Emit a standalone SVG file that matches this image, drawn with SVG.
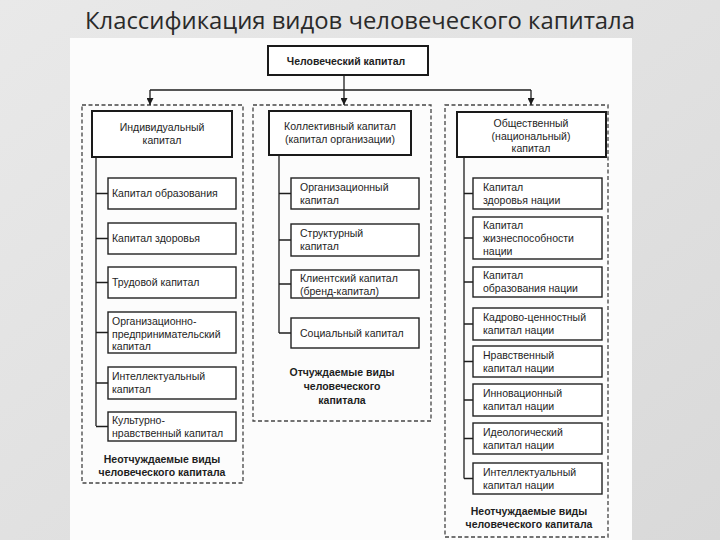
<svg xmlns="http://www.w3.org/2000/svg" width="720" height="540" viewBox="0 0 720 540">
<defs>
<linearGradient id="bg" x1="0" y1="0" x2="1" y2="1">
<stop offset="0" stop-color="#e9e9e9"/>
<stop offset="1" stop-color="#d9d9d9"/>
</linearGradient>
<marker id="ah" viewBox="0 0 10 10" refX="10" refY="5" markerWidth="7" markerHeight="7" orient="auto" markerUnits="userSpaceOnUse">
<path d="M0,0 L10,5 L0,10 z" fill="#1a1a1a"/>
</marker>
<style>
.title{font-family:"Open Sans","Liberation Sans",sans-serif;font-size:23px;fill:#2a2a2a}
.t{font-family:"Liberation Sans",Arial,sans-serif;font-size:10.5px;fill:#1e1e1e}
.c{text-anchor:middle}
.b{font-weight:bold}
.box{fill:#fff;stroke:#222;stroke-width:1.4}
.hbox{fill:#fff;stroke:#1a1a1a;stroke-width:2}
.grp{fill:none;stroke:#444;stroke-width:1.3;stroke-dasharray:4 2.5}
.ln{fill:none;stroke:#1e1e1e;stroke-width:1.3}
</style>
</defs>
<rect x="0" y="0" width="720" height="540" fill="url(#bg)"/>
<rect x="70" y="38" width="562" height="502" fill="#fcfcfc"/>
<text class="title" x="85" y="29" textLength="550" lengthAdjust="spacingAndGlyphs">Классификация видов человеческого капитала</text>

<g id="groups">
<rect id="grp-left" class="grp" x="82" y="105" width="161" height="378"/>
<rect id="grp-mid" class="grp" x="253" y="105" width="178" height="316"/>
<rect id="grp-right" class="grp" x="445" y="105" width="163" height="432"/>
</g>

<g id="connectors">
<line class="ln" x1="344" y1="75" x2="344" y2="90"/>
<line class="ln" x1="150" y1="90" x2="531" y2="90"/>
<line class="ln" x1="150" y1="90" x2="150" y2="105" marker-end="url(#ah)"/>
<line class="ln" x1="344" y1="90" x2="344" y2="105" marker-end="url(#ah)"/>
<line class="ln" x1="531" y1="90" x2="531" y2="105" marker-end="url(#ah)"/>
<!-- left -->
<path class="ln" d="M96,157 V426 M96,193.5 H108 M96,238.5 H108 M96,282.5 H108 M96,332.5 H108 M96,383 H108 M96,426.5 H108"/>
<!-- middle -->
<path class="ln" d="M279,155 V333 M279,193.5 H291 M279,240 H291 M279,284 H291 M279,333 H291"/>
<!-- right -->
<path class="ln" d="M464,157 V478.5 M464,193.5 H473 M464,238 H473 M464,282 H473 M464,324 H473 M464,361.5 H473 M464,400 H473 M464,438.5 H473 M464,478.5 H473"/>
</g>

<g id="n-root">
<rect class="hbox" x="268" y="46" width="160" height="29"/>
<text class="t c b" x="346" y="64.5">Человеческий капитал</text>
</g>

<g id="n-individual">
<rect class="hbox" x="92" y="111" width="140" height="46"/>
<text class="t c" x="162" y="131">Индивидуальный</text>
<text class="t c" x="162" y="144">капитал</text>
</g>
<g id="n-l1"><rect class="box" x="108" y="178" width="128" height="31"/><text class="t" x="112" y="197">Капитал образования</text></g>
<g id="n-l2"><rect class="box" x="108" y="223" width="128" height="31"/><text class="t" x="112" y="242">Капитал  здоровья</text></g>
<g id="n-l3"><rect class="box" x="108" y="267" width="128" height="31"/><text class="t" x="112" y="286">Трудовой капитал</text></g>
<g id="n-l4"><rect class="box" x="108" y="312" width="128" height="41"/><text class="t" x="112" y="325">Организационно-</text><text class="t" x="112" y="337.5">предпринимательский</text><text class="t" x="112" y="350">капитал</text></g>
<g id="n-l5"><rect class="box" x="108" y="367" width="128" height="32"/><text class="t" x="112" y="380">Интеллектуальный</text><text class="t" x="112" y="393">капитал</text></g>
<g id="n-l6"><rect class="box" x="108" y="412" width="128" height="29"/><text class="t" x="112" y="424">Культурно-</text><text class="t" x="112" y="437">нравственный капитал</text></g>
<g id="f-left"><text class="t c b" x="162" y="463">Неотчуждаемые виды</text><text class="t c b" x="162" y="476">человеческого капитала</text></g>

<g id="n-collective">
<rect class="hbox" x="269" y="111" width="142" height="44"/>
<text class="t c" x="340" y="130">Коллективный капитал</text>
<text class="t c" x="340" y="143">(капитал организации)</text>
</g>
<g id="n-m1"><rect class="box" x="291" y="178" width="128" height="31"/><text class="t" x="300" y="191">Организационный</text><text class="t" x="300" y="204">капитал</text></g>
<g id="n-m2"><rect class="box" x="291" y="224" width="128" height="32"/><text class="t" x="300" y="237">Структурный</text><text class="t" x="300" y="250">капитал</text></g>
<g id="n-m3"><rect class="box" x="291" y="270" width="128" height="28"/><text class="t" x="300" y="282">Клиентский капитал</text><text class="t" x="300" y="295">(бренд-капитал)</text></g>
<g id="n-m4"><rect class="box" x="291" y="318" width="128" height="30"/><text class="t" x="300" y="337">Социальный капитал</text></g>
<g id="f-mid"><text class="t c b" x="342" y="376">Отчуждаемые виды</text><text class="t c b" x="342" y="390">человеческого</text><text class="t c b" x="342" y="404">капитала</text></g>

<g id="n-social">
<rect class="hbox" x="457" y="112" width="149" height="45"/>
<text class="t c" x="531" y="127">Общественный</text>
<text class="t c" x="531" y="139.5">(национальный)</text>
<text class="t c" x="531" y="152">капитал</text>
</g>
<g id="n-r1"><rect class="box" x="473" y="178" width="129" height="31"/><text class="t" x="483" y="191">Капитал</text><text class="t" x="483" y="204">здоровья нации</text></g>
<g id="n-r2"><rect class="box" x="473" y="217" width="129" height="42"/><text class="t" x="483" y="229">Капитал</text><text class="t" x="483" y="242">жизнеспособности</text><text class="t" x="483" y="255">нации</text></g>
<g id="n-r3"><rect class="box" x="473" y="267" width="129" height="30"/><text class="t" x="483" y="279">Капитал</text><text class="t" x="483" y="292">образования нации</text></g>
<g id="n-r4"><rect class="box" x="473" y="308" width="129" height="32"/><text class="t" x="483" y="321">Кадрово-ценностный</text><text class="t" x="483" y="334">капитал нации</text></g>
<g id="n-r5"><rect class="box" x="473" y="346" width="129" height="31"/><text class="t" x="483" y="359">Нравственный</text><text class="t" x="483" y="372">капитал нации</text></g>
<g id="n-r6"><rect class="box" x="473" y="384" width="129" height="32"/><text class="t" x="483" y="397">Инновационный</text><text class="t" x="483" y="410">капитал нации</text></g>
<g id="n-r7"><rect class="box" x="473" y="423" width="129" height="31"/><text class="t" x="483" y="436">Идеологический</text><text class="t" x="483" y="449">капитал нации</text></g>
<g id="n-r8"><rect class="box" x="473" y="463" width="129" height="31"/><text class="t" x="483" y="476">Интеллектуальный</text><text class="t" x="483" y="489">капитал нации</text></g>
<g id="f-right"><text class="t c b" x="529" y="515">Неотчуждаемые виды</text><text class="t c b" x="529" y="528">человеческого капитала</text></g>
</svg>
